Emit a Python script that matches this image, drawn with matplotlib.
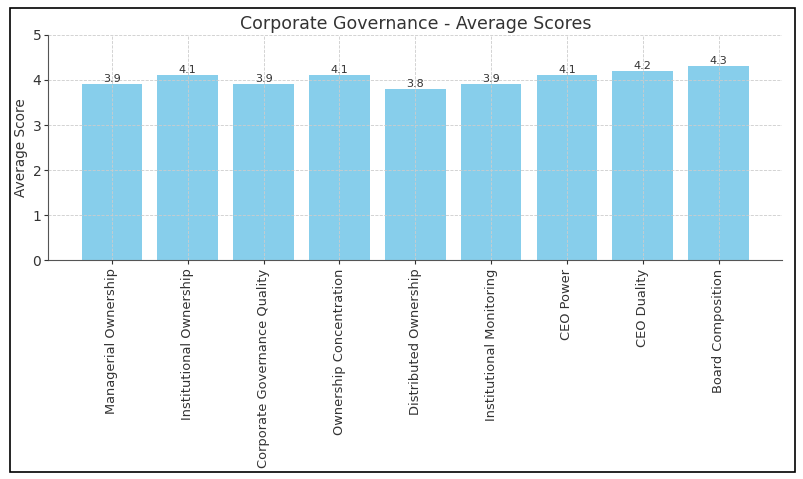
import matplotlib
matplotlib.use("Agg")
import matplotlib.pyplot as plt
from matplotlib.patches import Rectangle

categories = ["Managerial Ownership", "Institutional Ownership", "Corporate Governance Quality",
              "Ownership Concentration", "Distributed Ownership", "Institutional Monitoring",
              "CEO Power", "CEO Duality", "Board Composition"]
scores = [3.9, 4.1, 3.9, 4.1, 3.8, 3.9, 4.1, 4.2, 4.3]

text_color = "#333333"
plt.rcParams['text.color'] = text_color
plt.rcParams['axes.labelcolor'] = text_color
plt.rcParams['xtick.color'] = text_color
plt.rcParams['ytick.color'] = text_color

fig = plt.figure(figsize=(8.04, 4.79), dpi=100)
ax = fig.add_axes([0.06, 0.457, 0.913, 0.47])

bars = ax.bar(categories, scores, color="skyblue", width=0.8)
for b, v in zip(bars, scores):
    ax.text(b.get_x() + b.get_width() / 2, v + 0.01, f"{v}", ha="center", va="bottom", fontsize=8)

ax.set_ylim(0, 5)
ax.set_title("Corporate Governance - Average Scores", fontsize=12.5, pad=4)
ax.set_ylabel("Average Score", fontsize=9.8, labelpad=3)
ax.tick_params(axis="x", labelrotation=90, labelsize=9.4, length=3, pad=3)
ax.tick_params(axis="y", labelsize=10, length=3, pad=2)
ax.grid(True, linestyle="--", color="#cccccc", linewidth=0.6)
ax.set_axisbelow(False)
for s in ["top", "right"]:
    ax.spines[s].set_visible(False)
ax.spines["left"].set_color("#555555")
ax.spines["bottom"].set_color("#555555")

# outer frame
fig.patches.append(Rectangle((0.013, 0.015), 0.976, 0.968, transform=fig.transFigure,
                             fill=False, edgecolor="black", linewidth=1.2))

fig.savefig("out.png", dpi=100)
